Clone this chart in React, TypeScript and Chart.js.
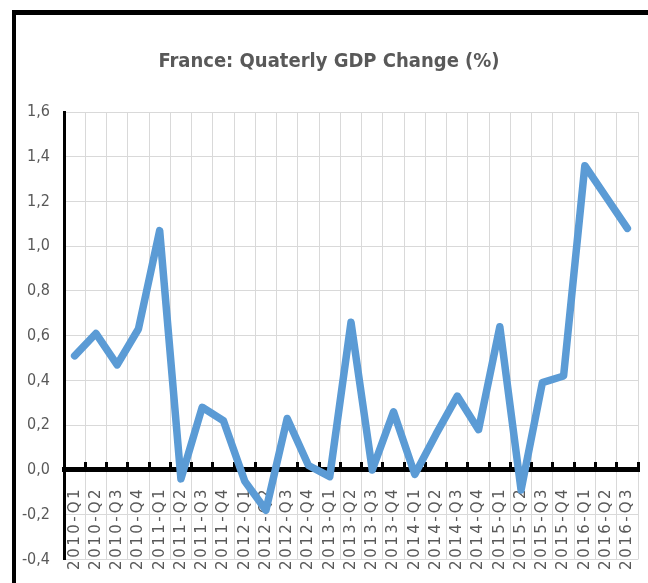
import React, { useEffect, useRef } from "react";
import { Chart, registerables } from "chart.js";

Chart.register(...registerables);

const TITLE = "France: Quaterly GDP Change (%)";

const quarters = [
  "2010-Q1", "2010-Q2", "2010-Q3", "2010-Q4",
  "2011-Q1", "2011-Q2", "2011-Q3", "2011-Q4",
  "2012-Q1", "2012-Q2", "2012-Q3", "2012-Q4",
  "2013-Q1", "2013-Q2", "2013-Q3", "2013-Q4",
  "2014-Q1", "2014-Q2", "2014-Q3", "2014-Q4",
  "2015-Q1", "2015-Q2", "2015-Q3", "2015-Q4",
  "2016-Q1", "2016-Q2", "2016-Q3",
];

const gdpChange = [
  0.51, 0.61, 0.47, 0.63,
  1.07, -0.04, 0.28, 0.22,
  -0.05, -0.18, 0.23, 0.02,
  -0.03, 0.66, 0.0, 0.26,
  -0.02, 0.16, 0.33, 0.18,
  0.64, -0.09, 0.39, 0.42,
  1.36, 1.22, 1.08,
];

const yMin = -0.4;
const yMax = 1.6;
const yStep = 0.2;

const labelSpacing = {
  id: "labelSpacing",
  beforeDraw(chart: any) {
    const sc = chart.scales.x;
    if (!sc || sc.__spaced) return;
    const orig = sc.drawLabels;
    sc.drawLabels = function (area: any) {
      const ctx = chart.ctx;
      ctx.save();
      ctx.letterSpacing = "2.5px";
      orig.call(this, area);
      ctx.restore();
    };
    sc.__spaced = true;
  },
};

export default function App() {
  const canvasRef = useRef<HTMLCanvasElement | null>(null);

  useEffect(() => {
    document.body.style.margin = "0";
    const canvas = canvasRef.current;
    if (!canvas) return;
    const chart = new Chart(canvas, {
      type: "line",
      data: {
        labels: quarters,
        datasets: [
          {
            data: gdpChange,
            borderColor: "#5b9bd5",
            backgroundColor: "#5b9bd5",
            borderWidth: 7.5,
            pointRadius: 0,
            pointHoverRadius: 0,
            tension: 0,
            fill: false,
            borderCapStyle: "round",
            borderJoinStyle: "round",
          },
        ],
      },
      plugins: [labelSpacing],
      options: {
        animation: false,
        responsive: true,
        maintainAspectRatio: false,
        devicePixelRatio: 1,
        layout: { padding: { left: 0, right: 10, top: 0, bottom: 22 } },
        plugins: {
          legend: { display: false },
          tooltip: { enabled: false },
          title: {
            display: true,
            text: TITLE,
            color: "#595959",
            font: {
              family: "'DejaVu Sans Condensed', sans-serif",
              size: 20,
              weight: "bold",
              lineHeight: 1.2,
            },
            padding: { top: 35, bottom: 38 },
          },
        },
        scales: {
          x: {
            type: "category",
            position: { y: 0 },
            offset: true,
            grid: {
              offset: true,
              color: "#d9d9d9",
              lineWidth: 1,
              drawTicks: true,
              tickLength: -10,
              tickColor: "#000000",
              tickWidth: 3,
              z: -1,
            },
            border: { display: true, color: "#000000", width: 5 },
            ticks: {
              autoSkip: false,
              maxRotation: 90,
              minRotation: 90,
              padding: 27,
              color: "#595959",
              font: { family: "'DejaVu Sans', sans-serif", size: 15 },
            },
            afterFit: (s: any) => {
              s.height = 0;
              s.paddingLeft = 0;
              s.paddingRight = 0;
              s.paddingTop = 0;
              s.paddingBottom = 0;
            },
          },
          y: {
            min: yMin,
            max: yMax,
            grid: { color: "#d9d9d9", lineWidth: 1, drawTicks: false, z: -1 },
            border: { display: true, color: "#000000", width: 3 },
            ticks: {
              stepSize: yStep,
              padding: 14,
              color: "#595959",
              font: { family: "'DejaVu Sans Condensed', sans-serif", size: 16 },
              callback: (v: any) => Number(v).toFixed(1).replace(".", ","),
            },
            afterFit: (s: any) => {
              s.width = 44;
            },
          },
        },
      },
    });
    return () => chart.destroy();
  }, []);

  return (
    <div style={{ position: "relative", width: 648, height: 583, background: "#ffffff", overflow: "hidden" }}>
      <div
        style={{
          position: "absolute",
          left: 12,
          top: 10,
          right: -10,
          bottom: -10,
          borderLeft: "4px solid #000",
          borderTop: "5px solid #000",
        }}
      />
      <div style={{ position: "absolute", left: 20, top: 15, width: 628, height: 568 }}>
        <canvas ref={canvasRef} />
      </div>
    </div>
  );
}
